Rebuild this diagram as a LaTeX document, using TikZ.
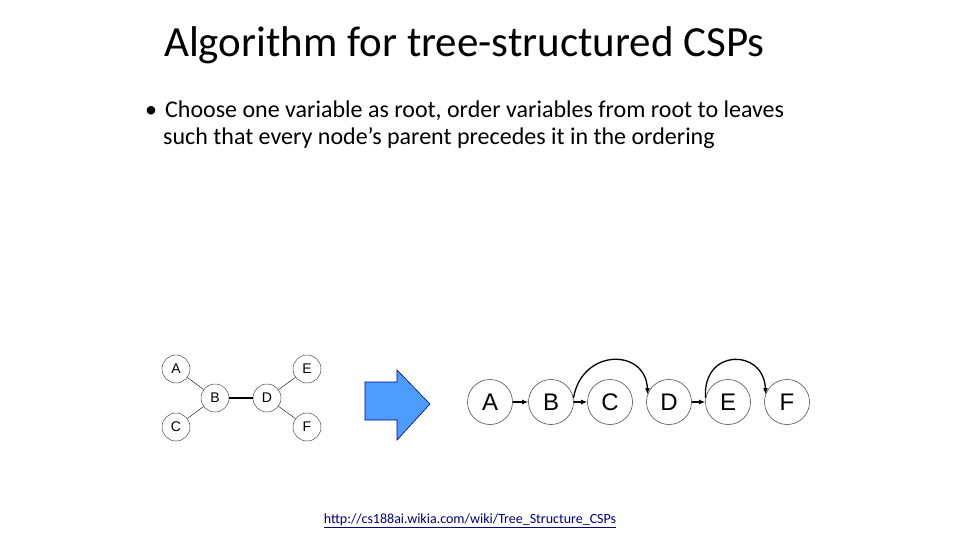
\documentclass[tikz,border=0pt]{standalone}
\usepackage{fontspec}
\setmainfont{Carlito}
\newfontfamily\arialf{Liberation Sans}
\usetikzlibrary{arrows.meta}
\begin{document}
\begin{tikzpicture}[x=1pt,y=-1pt,
  sv/.style={circle,draw=black!70,line width=0.5pt,minimum size=28pt,inner sep=0pt,font=\arialf\fontsize{14}{14}\selectfont},
  bv/.style={circle,draw=black!70,line width=0.6pt,minimum size=45pt,inner sep=0pt,font=\arialf\fontsize{24}{24}\selectfont},
  ar/.style={-{Latex[length=6pt,width=5pt]},line width=1.3pt}]
\useasboundingbox (0,0) rectangle (960,540);
\node[anchor=west,font=\fontsize{43}{43}\selectfont,inner sep=0pt] (title) at (164,45) {Algorithm for tree-structured CSPs};
\node[anchor=north west,align=left,font=\fontsize{24}{27}\selectfont,inner sep=0pt] (bul) at (145,101)
 {\textbullet\hspace{8pt}Choose one variable as root, order variables from root to leaves\\
 \hspace{18pt}such that every node's parent precedes it in the ordering};
% left tree
\node[sv] (a) at (176,369) {A};
\node[sv] (c) at (176,427) {C};
\node[sv] (b) at (215,398) {B};
\node[sv] (d) at (267,398) {D};
\node[sv] (e) at (307,369) {E};
\node[sv] (f) at (307,427) {F};
\draw (a)--(b) (c)--(b) (e)--(d) (f)--(d);
\draw[line width=1.2pt] (b)--(d);
% big arrow
\draw[fill=blue!55!cyan!70,draw=blue!60!black,line width=0.6pt] (365,382)--(397,382)--(397,370)--(430,404)--(397,440)--(397,420)--(365,420)--cycle;
% chain
\node[bv] (A) at (490,402) {A};
\node[bv] (B) at (551,402) {B};
\node[bv] (C) at (610,402) {C};
\node[bv] (D) at (669,402) {D};
\node[bv] (E) at (728,402) {E};
\node[bv] (F) at (787,402) {F};
\draw[ar] (A)--(B);
\draw[ar] (B)--(C);
\draw[ar] (D)--(E);
\draw[ar] (B.10) .. controls (582,348) and (646,348) .. (D.160);
\draw[ar] (E.170) .. controls (702,348) and (764,348) .. (F.160);
\node[font=\fontsize{14}{14}\selectfont,text=blue!50!black] (url) at (470,521) {\underline{http://cs188ai.wikia.com/wiki/Tree\_Structure\_CSPs}};
\end{tikzpicture}
\end{document}
